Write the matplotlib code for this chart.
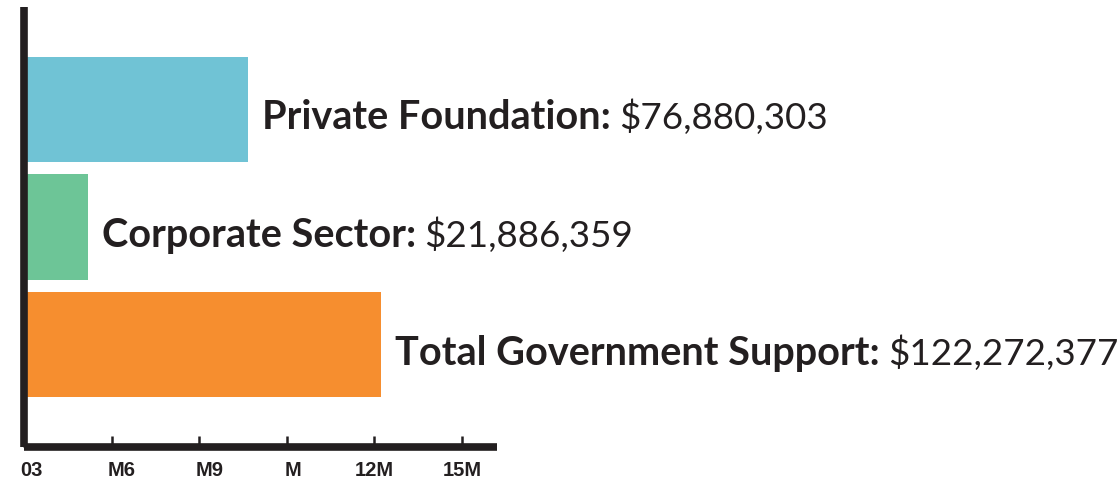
import matplotlib
matplotlib.use("Agg")
import matplotlib.pyplot as plt
from matplotlib.transforms import offset_copy, ScaledTranslation

categories = ["Total Government Support", "Corporate Sector", "Private Foundation"]
values = [122272377, 21886359, 76880303]
value_labels = ["$122,272,377", "$21,886,359", "$76,880,303"]
colors = ["#F68E2F", "#6DC597", "#70C3D5"]
tick_values = [0, 30e6, 60e6, 90e6, 120e6, 150e6]
tick_labels = ["03", "M6", "M9", "M", "12M", "15M"]

W, H = 1119, 479
fig = plt.figure(figsize=(W / 100, H / 100), dpi=100)
ax = fig.add_axes([24 / W, (H - 447) / H, (497 - 24) / W, (447 - 7) / H])

ypos = [0, 1, 2]
ax.barh(ypos, values, height=0.897, color=colors, zorder=1)
ax.set_xlim(0, 162e6)
ax.set_ylim(-0.87, 2.87)

dark = "#231F20"
for s in ["top", "right"]:
    ax.spines[s].set_visible(False)
for s in ["left", "bottom"]:
    ax.spines[s].set_linewidth(5.5)
    ax.spines[s].set_color(dark)
    ax.spines[s].set_zorder(3)
    ax.spines[s].set_capstyle("butt")
ax.set_yticks([])
ax.set_xticks(tick_values)
ax.set_xticklabels(tick_labels, fontfamily="Liberation Sans", fontweight="bold",
                   fontsize=14.5, color=dark)
ax.tick_params(axis="x", direction="in", length=8, width=1.8, color=dark, pad=10)
for lbl, dx in zip(ax.get_xticklabels(), [7, 10, 10, 6, 0, 0]):
    lbl.set_transform(lbl.get_transform() + ScaledTranslation(dx / 100, 0, fig.dpi_scale_trans))

fig.canvas.draw()
renderer = fig.canvas.get_renderer()
for y, v, cat, lab in zip(ypos, values, categories, value_labels):
    tr = offset_copy(ax.transData, fig=fig, x=14 * 0.72, y=-20 * 0.72, units="points")
    t1 = ax.text(v, y, cat + ":", transform=tr, fontfamily="Lato", fontweight="bold",
                 fontsize=28.5, color=dark, va="baseline", ha="left")
    bb = t1.get_window_extent(renderer=renderer)
    xd = ax.transData.inverted().transform((bb.x1, 0))[0]
    tr2 = offset_copy(ax.transData, fig=fig, x=8 * 0.72, y=-20 * 0.72, units="points")
    ax.text(xd, y, lab, transform=tr2, fontfamily="Lato", fontweight="normal",
            fontsize=26.5, color=dark, va="baseline", ha="left", clip_on=False)

fig.savefig("out.png", dpi=100)
